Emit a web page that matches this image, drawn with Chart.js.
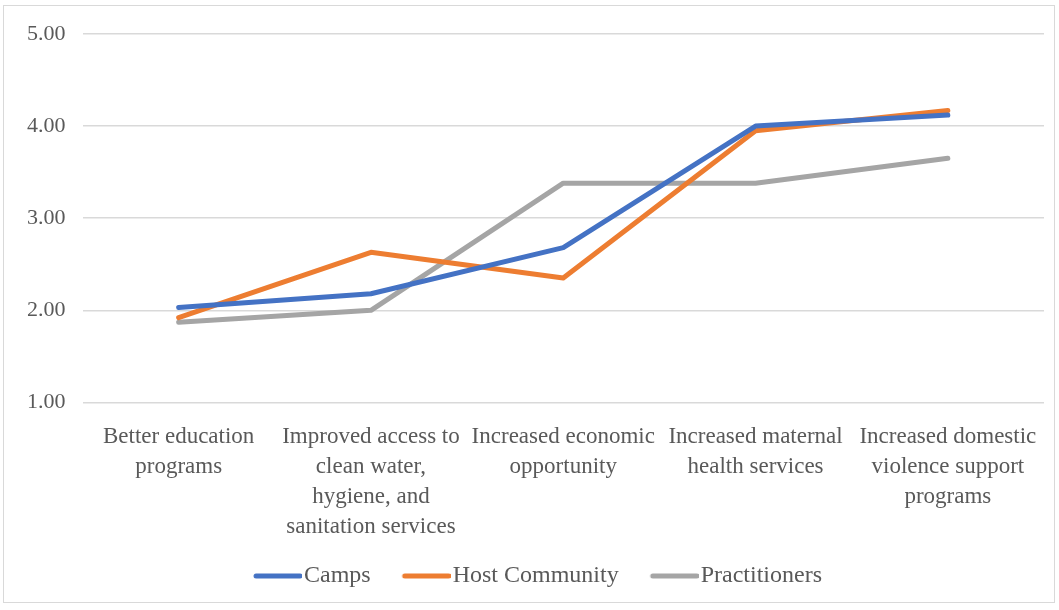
<!DOCTYPE html>
<html>
<head>
<meta charset="utf-8">
<script src="https://cdn.jsdelivr.net/npm/chart.js@4"></script>
<style>
    html, body { margin: 0; padding: 0; background: #fff; }
    #wrap { position: relative; width: 1059px; height: 610px; }
    #frame {
        position: absolute; left: 3px; top: 5px; width: 1052px; height: 598px;
        border: 1px solid #d9d9d9; box-sizing: border-box; pointer-events: none;
    }
</style>
</head>
<body>
<div id="wrap">
    <canvas id="chart" width="1059" height="610"></canvas>
    <div id="frame"></div>
</div>
<script>
// Категории и значения
const categories = [
    ['Better education', 'programs'],
    ['Improved access to', 'clean water,', 'hygiene, and', 'sanitation services'],
    ['Increased economic', 'opportunity'],
    ['Increased maternal', 'health services'],
    ['Increased domestic', 'violence support', 'programs']
];
const camps = [2.03, 2.18, 2.68, 4.00, 4.12];
const hostCommunity = [1.92, 2.63, 2.35, 3.95, 4.17];
const practitioners = [1.87, 2.00, 3.38, 3.38, 3.65];

const FONT = "'Liberation Serif', 'Times New Roman', serif";
const TEXT = '#595959';

// Маркер легенды: линия, прижатая вплотную к тексту
function legendLine(color) {
    const c = document.createElement('canvas');
    c.width = 80;
    c.height = 6;
    const g = c.getContext('2d');
    g.strokeStyle = color;
    g.lineWidth = 5;
    g.lineCap = 'round';
    g.beginPath();
    g.moveTo(34, 3);
    g.lineTo(78, 3);
    g.stroke();
    return c;
}

function series(label, data, color) {
    return {
        label: label,
        data: data,
        borderColor: color,
        backgroundColor: color,
        borderWidth: 5,
        pointRadius: 0,
        pointStyle: legendLine(color),
        tension: 0,
        borderCapStyle: 'round',
        borderJoinStyle: 'round'
    };
}

new Chart(document.getElementById('chart'), {
    type: 'line',
    data: {
        labels: categories,
        datasets: [
            series('Camps', camps, '#4472c4'),
            series('Host Community', hostCommunity, '#ed7d31'),
            series('Practitioners', practitioners, '#a5a5a5')
        ]
    },
    options: {
        responsive: false,
        animation: false,
        layout: {
            padding: { left: 10, right: 15, top: 34, bottom: 12 }
        },
        plugins: {
            tooltip: { enabled: false },
            legend: {
                position: 'bottom',
                labels: {
                    usePointStyle: true,
                    pointStyleWidth: 60,
                    padding: 10,
                    color: TEXT,
                    font: { family: FONT, size: 24 }
                }
            }
        },
        scales: {
            x: {
                offset: true,
                grid: { display: false },
                border: { display: false },
                ticks: {
                    color: TEXT,
                    maxRotation: 0,
                    autoSkip: false,
                    padding: 12,
                    font: { family: FONT, size: 23, lineHeight: 1.3 }
                }
            },
            y: {
                min: 1,
                max: 5,
                grid: { color: '#d9d9d9', lineWidth: 1.5, drawTicks: false },
                border: { display: false },
                ticks: {
                    stepSize: 1,
                    padding: 17,
                    color: TEXT,
                    font: { family: FONT, size: 22 },
                    callback: v => v.toFixed(2)
                }
            }
        }
    }
});
</script>
</body>
</html>
